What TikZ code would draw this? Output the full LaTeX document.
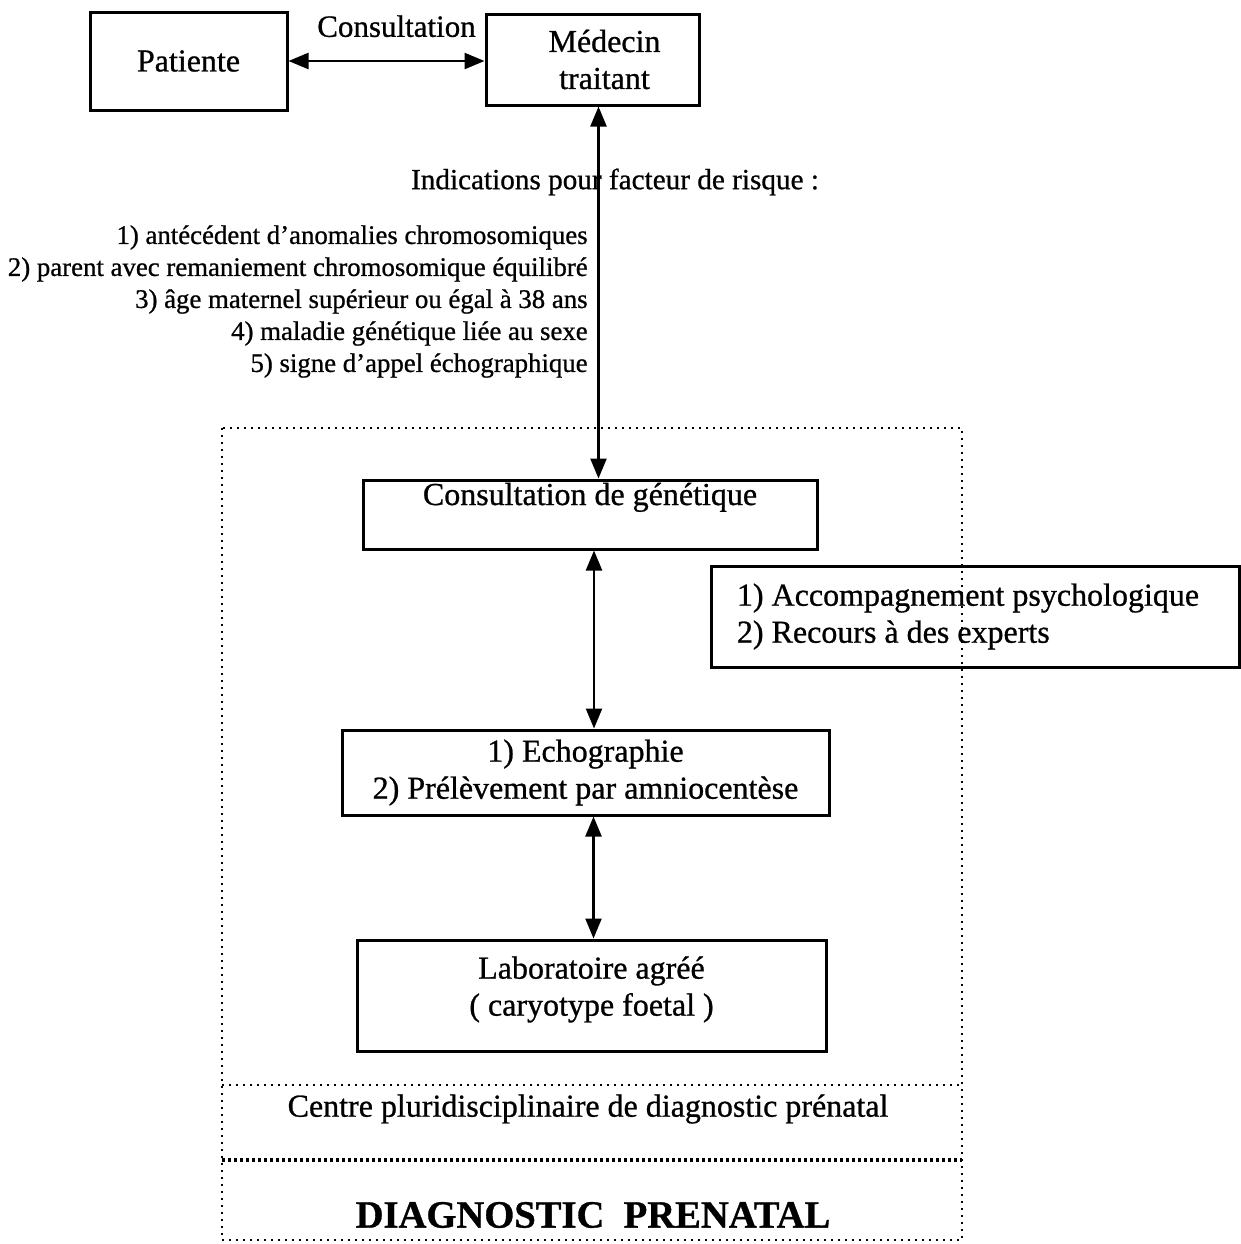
\documentclass[tikz,border=0pt]{standalone}
\usepackage{fontspec}
\setmainfont[FakeBold=0.8,BoldFont={Liberation Serif Bold}]{Liberation Serif}
\usetikzlibrary{arrows.meta,positioning}

\tikzset{
	box/.style={draw,line width=1.5pt,align=center,font=\fontsize{16}{18.5}\selectfont},
	link/.style={{Triangle[length=10pt,width=8pt]}-{Triangle[length=10pt,width=8pt]},line width=1.2pt},
	frame/.style={line width=1pt,dash pattern=on 1pt off 2.5pt},
}

\begin{document}
\begin{tikzpicture}[x=0.5pt,y=-0.5pt]
	\useasboundingbox (0,0) rectangle (1241,1244);

	\node[box,minimum width=98.5pt,minimum height=49pt] (patiente) at (188.5,61) {Patiente};
	\node[box,minimum width=106.5pt,minimum height=45.5pt] (medecin) at (592.5,59.5) {\hspace*{12pt}Médecin\\\hspace*{12pt}traitant};
	\node[box,minimum width=227pt,inner ysep=2.5pt,text height=10pt,text depth=19.5pt] (genet) at (590,514.5) {Consultation de génétique};
	\node[box,minimum width=243.5pt,minimum height=42.5pt] (echo) at (585.5,772.5) {1) Echographie\\2) Prélèvement par amniocentèse};
	\node[box,minimum width=234.5pt,minimum height=55.5pt] (labo) at (591.5,995.5) {Laboratoire agréé\\( caryotype foetal )\\[-9pt]\mbox{}};
	\node[box,align=left,minimum width=264pt,minimum height=50.5pt] (accomp) at (975,616.5) {1) Accompagnement psychologique\hspace*{7pt}\\2) Recours à des experts};

	\node[font=\fontsize{14.6}{16}\selectfont] (indic) at (615,182) {Indications pour facteur de risque :};
	\node[anchor=east,align=right,inner xsep=0pt,font=\fontsize{13.4}{16}\selectfont] (liste) at (588,301.5)
		{1) antécédent d'anomalies chromosomiques\\
		 2) parent avec remaniement chromosomique équilibré\\
		 3) âge maternel supérieur ou égal à 38 ans\\
		 4) maladie génétique liée au sexe\\
		 5) signe d'appel échographique};

	% cadre du centre
	\draw[frame] (222,428) rectangle (962,1240);
	\draw[frame] (222,1085) -- (962,1085);
	\draw[frame,line width=2pt,dash pattern=on 1.5pt off 1.5pt] (222,1160) -- (962,1160);
	\node[font=\fontsize{16}{18}\selectfont] (centre) at (588,1109) {Centre pluridisciplinaire de diagnostic prénatal};
	\node[font=\fontsize{19.3}{21}\selectfont\bfseries] (titre) at (593,1215) {DIAGNOSTIC\ \ PRENATAL};

	\draw[link] (patiente.east) -- node[above=8pt,xshift=5pt,font=\fontsize{15.5}{18}\selectfont] {Consultation} (patiente.east -| medecin.west);
	\draw[link] ([xshift=3pt]medecin.south) -- ([xshift=3pt]medecin.south |- genet.north);
	\draw[link] ([xshift=2pt]genet.south) -- ([xshift=2pt]genet.south |- echo.north);
	\draw[link] ([xshift=4pt]echo.south) -- ([xshift=4pt]echo.south |- labo.north);
\end{tikzpicture}
\end{document}
